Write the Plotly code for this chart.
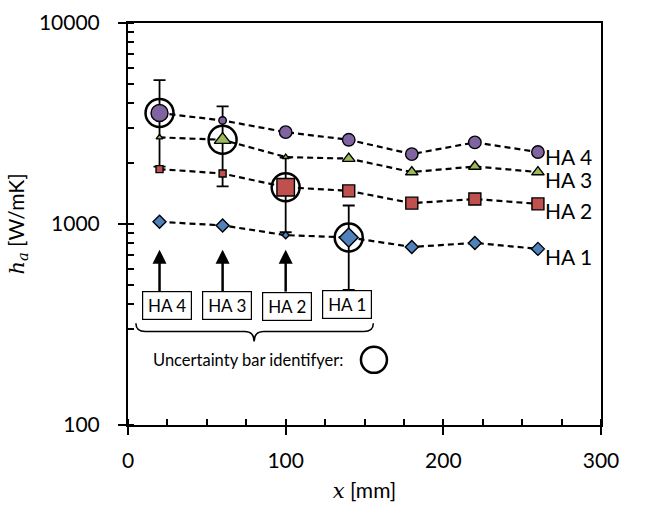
import math
import plotly.graph_objects as go

# ---- data ----
x_mm = [20, 60, 100, 140, 180, 220, 260]
ha1 = [1025, 984, 880, 857, 769, 805, 752]
ha2 = [1875, 1783, 1524, 1462, 1270, 1331, 1259]
ha3 = [2697, 2624, 2153, 2115, 1813, 1932, 1813]
ha4 = [3565, 3275, 2864, 2624, 2227, 2547, 2280]
series_names = ["HA 1", "HA 2", "HA 3", "HA 4"]

# uncertainty bars (one point per series)
unc_x = [20, 60, 100, 140]
unc_y = [ha4[0], ha3[1], ha2[2], ha1[3]]
unc_plus = [1635, 1221, 614, 379]
unc_minus = [1635, 1086, 614, 387]
unc_names = ["HA 4", "HA 3", "HA 2", "HA 1"]

x_ticks = [0, 100, 200, 300]
y_ticks = [100, 1000, 10000]

# ---- styles ----
FONT = "Lato"
colors = {"HA 1": "#4F81BD", "HA 2": "#C0504D", "HA 3": "#9BBB59", "HA 4": "#8064A2"}
symbols = {"HA 1": "diamond", "HA 2": "square", "HA 3": "triangle-up", "HA 4": "circle"}
sizes = {
    "HA 1": [10, 10, 5.5, 14.5, 10, 10, 10],
    "HA 2": [7, 7, 17.5, 12, 12, 12, 12],
    "HA 3": [6, 14.5, 6, 11, 11, 11, 11],
    "HA 4": [17, 7.5, 12.5, 12.5, 12.5, 12.5, 12.5],
}
values = {"HA 1": ha1, "HA 2": ha2, "HA 3": ha3, "HA 4": ha4}
label_shift = {"HA 1": -4, "HA 2": -3, "HA 3": -4, "HA 4": -1}

fig = go.Figure()

# error bars first so markers are drawn over them
fig.add_trace(go.Scatter(
    x=unc_x, y=unc_y, mode="markers",
    marker=dict(size=1, color="rgba(0,0,0,0)"),
    error_y=dict(type="data", symmetric=False, array=unc_plus, arrayminus=unc_minus,
                 color="black", thickness=1.8, width=6),
    showlegend=False, hoverinfo="skip",
))

for name in series_names:
    fig.add_trace(go.Scatter(
        x=x_mm, y=values[name], mode="lines+markers", name=name,
        line=dict(color="black", width=2.2, dash="6px,4px"),
        marker=dict(symbol=symbols[name], size=sizes[name], color=colors[name], opacity=1,
                    line=dict(color="black", width=1.4)),
        showlegend=False,
    ))

# uncertainty identifier circles
fig.add_trace(go.Scatter(
    x=unc_x, y=unc_y, mode="markers",
    marker=dict(symbol="circle-open", size=28, color="black", opacity=1,
                line=dict(width=2.5, color="black")),
    showlegend=False, hoverinfo="skip",
))

# identifier legend circle
fig.add_trace(go.Scatter(
    x=[156], y=[211], mode="markers",
    marker=dict(symbol="circle-open", size=26, color="black", line=dict(width=2.5, color="black")),
    showlegend=False, hoverinfo="skip",
))

# arrows from boxes up to the points
for xa in [20, 60, 100]:
    fig.add_trace(go.Scatter(
        x=[xa, xa], y=[461, 715], mode="lines",
        line=dict(color="black", width=2.5), showlegend=False, hoverinfo="skip",
    ))
    fig.add_trace(go.Scatter(
        x=[xa], y=[745], mode="markers",
        marker=dict(symbol="arrow-up", size=14, color="black", line=dict(width=0)),
        showlegend=False, hoverinfo="skip",
    ))

annotations = []
# series labels at right
for name in series_names:
    annotations.append(dict(
        x=263, y=math.log10(values[name][-1]), xref="x", yref="y",
        text=name, showarrow=False, xanchor="left", yanchor="middle",
        yshift=label_shift[name] - 3, height=20,
        font=dict(family=FONT, size=21, color="black"),
    ))

# boxed labels
box_pos = [(24.5, 394), (62.6, 392), (100.7, 388), (138.8, 396)]
for (bx, by), name in zip(box_pos, unc_names):
    annotations.append(dict(
        x=bx, y=math.log10(by), xref="x", yref="y", text=name, showarrow=False,
        font=dict(family=FONT, size=17, color="black"), bgcolor="white",
        bordercolor="black", borderwidth=1.2, borderpad=3, width=42, height=21,
    ))

annotations.append(dict(
    x=76, y=math.log10(211), xref="x", yref="y", text="Uncertainty bar identifyer:",
    showarrow=False, font=dict(family=FONT, size=16.5, color="black"),
))

def py(v):
    return (math.log10(v) - 2) / 2

shapes = [
    # white box covering the axis behind the text
    dict(type="rect", xref="x", yref="paper", x0=-4, x1=12, y0=py(175.5), y1=py(250),
         fillcolor="white", line=dict(width=0), layer="above"),
    # curly brace
    dict(type="path", xref="x", yref="paper",
         path=("M 5,0.253 Q 5,0.2325 11,0.2325 L 74,0.2325 Q 80,0.2325 80,0.2075 "
               "Q 80,0.2325 86,0.2325 L 149.6,0.2325 Q 155.6,0.2325 155.6,0.253"),
         line=dict(color="black", width=1.5), layer="above"),
]

fig.update_layout(
    width=657, height=506,
    margin=dict(l=128, r=56, t=23, b=81),
    plot_bgcolor="white", paper_bgcolor="white",
    annotations=annotations, shapes=shapes,
    font=dict(family=FONT, size=21, color="black"),
    xaxis=dict(
        range=[0, 300], tickmode="array", tickvals=x_ticks, ticktext=[str(t) for t in x_ticks],
        ticks="outside", ticklen=8, tickwidth=2, tickcolor="black",
        showline=True, linecolor="black", linewidth=2, mirror=True,
        showgrid=False, zeroline=False, ticklabelstandoff=8, automargin=False,
        minor=dict(ticks="inside", ticklen=6, tickwidth=1.5, tickcolor="black", dtick=25, showgrid=False),
        tickfont=dict(family=FONT, size=21, color="black"),
        title=dict(text='<span style="font-family:DejaVu Serif"><i>x</i></span> [mm]',
                   font=dict(family=FONT, size=21, color="black"), standoff=12),
    ),
    yaxis=dict(
        type="log", range=[2, 4], tickmode="array", tickvals=y_ticks,
        ticktext=[str(t) for t in y_ticks],
        ticks="outside", ticklen=8, tickwidth=2, tickcolor="black",
        showline=True, linecolor="black", linewidth=2, mirror=True,
        showgrid=False, zeroline=False, ticklabelstandoff=14, automargin=False,
        minor=dict(ticks="inside", ticklen=6, tickwidth=1.5, tickcolor="black", dtick="D1", showgrid=False),
        tickfont=dict(family=FONT, size=21, color="black"),
        title=dict(text='<span style="font-family:DejaVu Serif"><i>h<sub>a</sub></i></span> [W/mK]',
                   font=dict(family=FONT, size=21, color="black"), standoff=9),
    ),
)

fig.write_html("out.html")
